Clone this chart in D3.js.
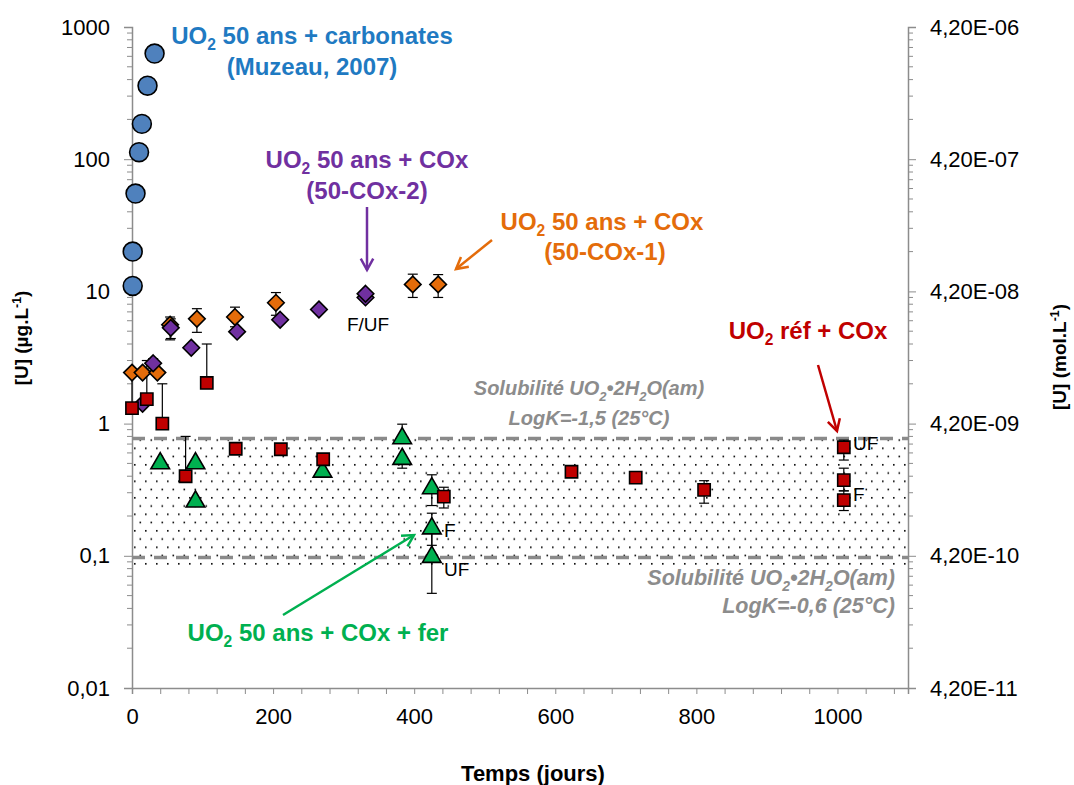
<!DOCTYPE html>
<html>
<head>
<meta charset="utf-8">
<script src="https://cdn.jsdelivr.net/npm/d3@7"></script>
<style>
  body { margin: 0; background: #fff; }
  svg { font-family: "Liberation Sans", Arial, sans-serif; }
  .axis path, .axis line { stroke: #8c8c8c; }
  .axis text { font-size: 22px; fill: #000; font-family: "Liberation Sans", Arial, sans-serif; }
</style>
</head>
<body>
<script>
// ---- data ----
var blueDays = [1, 1, 5, 10, 14, 22, 32];
var blueVals = [11, 20, 55, 113, 185, 360, 630];

var orangeDays = [0, 15, 36, 54, 92, 146, 204, 398, 434];
var orangeVals = [2.43, 2.43, 2.43, 5.6, 6.2, 6.4, 8.2, 11.3, 11.3];
var orangeLo = [null, null, null, 4.3, 4.9, 5.4, 6.6, 9.0, 9.0];
var orangeHi = [null, null, null, 6.4, 7.4, 7.6, 9.8, 13.5, 13.4];

var purpleDays = [15, 30, 55, 84, 149, 210, 265, 331, 331];
var purpleVals = [1.41, 2.86, 5.3, 3.75, 4.96, 6.1, 7.3, 9.0, 9.6];
var purpleLo = [null, 2.6, 4.4, null, null, null, null, null, null];
var purpleHi = [null, 3.1, 6.2, null, null, null, null, null, null];

var greenDays = [40, 90, 90, 270, 383, 383, 425, 425, 425];
var greenVals = [0.50, 0.50, 0.257, 0.432, 0.774, 0.54, 0.324, 0.161, 0.098];
var greenLo = [null, null, null, 0.43, 0.774, 0.46, 0.24, 0.12, 0.052];
var greenHi = [null, null, null, 0.58, 0.99, 0.54, 0.41, 0.21, 0.16];

var redDays = [0, 21, 43, 76, 106, 147, 211, 271, 442, 623, 714, 811, 1009, 1009, 1009];
var redVals = [1.31, 1.53, 1.0, 0.40, 2.03, 0.645, 0.64, 0.537, 0.28, 0.432, 0.39, 0.315, 0.662, 0.374, 0.264];
var redLo = [1.31, 1.53, 1.0, 0.40, 2.03, null, null, 0.49, 0.23, null, null, 0.25, 0.53, 0.31, 0.22];
var redHi = [2.4, 3.0, 2.0, 0.80, 4.0, null, null, 0.58, 0.33, null, null, 0.37, 0.75, 0.46, 0.31];

var solubHigh = 0.77;
var solubLow = 0.097;
var bandBottom = 0.08;

var yTickVals = [0.01, 0.1, 1, 10, 100, 1000];
var yTickLabels = ["0,01", "0,1", "1", "10", "100", "1000"];
var y2TickLabels = ["4,20E-11", "4,20E-10", "4,20E-09", "4,20E-08", "4,20E-07", "4,20E-06"];
var xLabelVals = [0, 200, 400, 600, 800, 1000];

// ---- layout ----
var W = 1074, H = 785;
var x = d3.scaleLinear().domain([0, 1100]).range([132, 908]);
var y = d3.scaleLog().domain([0.01, 1000]).range([688, 27]);

var svg = d3.select("body").append("svg")
    .attr("width", W)
    .attr("height", H);

var defs = svg.append("defs");
var pat = defs.append("pattern")
    .attr("id", "dots")
    .attr("patternUnits", "userSpaceOnUse")
    .attr("width", 11)
    .attr("height", 16.5);
pat.append("rect").attr("x", 2).attr("y", 2).attr("width", 1.6).attr("height", 1.6).attr("fill", "#000");
pat.append("rect").attr("x", 7.5).attr("y", 10.25).attr("width", 1.6).attr("height", 1.6).attr("fill", "#000");

// solubility band
svg.append("rect")
    .attr("x", x(0))
    .attr("y", y(solubHigh))
    .attr("width", x(1100) - x(0))
    .attr("height", y(bandBottom) - y(solubHigh))
    .attr("fill", "url(#dots)");

[solubHigh, solubLow].forEach(function (v) {
    svg.append("line")
        .attr("x1", x(0)).attr("x2", x(1100))
        .attr("y1", y(v)).attr("y2", y(v))
        .attr("stroke", "#8a8a8a")
        .attr("stroke-width", 3.5)
        .attr("stroke-dasharray", "13 9");
});

// minor log ticks
var minor = [];
for (var e = -2; e < 3; e++) {
    for (var m = 2; m <= 9; m++) minor.push(m * Math.pow(10, e));
}

// left axis
var yAxis = svg.append("g")
    .attr("class", "axis")
    .attr("transform", "translate(" + x(0) + ",0)")
    .call(d3.axisLeft(y).tickValues(yTickVals).tickSize(8).tickPadding(14)
        .tickFormat(function (d, i) { return yTickLabels[i]; }));
yAxis.selectAll(".minor").data(minor).enter().append("line")
    .attr("class", "minor")
    .attr("x1", -5).attr("x2", 0)
    .attr("y1", d => y(d)).attr("y2", d => y(d));

// right axis
var y2Axis = svg.append("g")
    .attr("class", "axis")
    .attr("transform", "translate(" + x(1100) + ",0)")
    .call(d3.axisRight(y).tickValues(yTickVals).tickSize(8).tickPadding(14)
        .tickFormat(function (d, i) { return y2TickLabels[i]; }));
y2Axis.selectAll(".minor").data(minor).enter().append("line")
    .attr("class", "minor")
    .attr("x1", 0).attr("x2", 5)
    .attr("y1", d => y(d)).attr("y2", d => y(d));

// bottom axis
svg.append("g")
    .attr("class", "axis")
    .attr("transform", "translate(0," + y(0.01) + ")")
    .call(d3.axisBottom(x).tickValues(d3.range(0, 1100, 40)).tickSize(6).tickPadding(14)
        .tickFormat(function (d) { return xLabelVals.indexOf(d) >= 0 ? d : ""; }));
svg.selectAll(".axis path.domain").attr("stroke-width", 1.5);

// axis titles
svg.append("text")
    .attr("transform", "translate(28,338) rotate(-90)")
    .attr("text-anchor", "middle")
    .attr("font-weight", "bold")
    .attr("font-size", 19)
    .call(rich, [["[U] (µg.L", ""], ["-1", "sup"], [")", ""]]);

svg.append("text")
    .attr("transform", "translate(1066,357) rotate(-90)")
    .attr("text-anchor", "middle")
    .attr("font-weight", "bold")
    .attr("font-size", 19)
    .call(rich, [["[U] (mol.L", ""], ["-1", "sup"], [")", ""]]);

svg.append("text")
    .attr("x", 533).attr("y", 781)
    .attr("text-anchor", "middle")
    .attr("font-weight", "bold")
    .attr("font-size", 22)
    .text("Temps (jours)");

// text with sub/superscripts
function rich(sel, parts) {
    var shift = 0;
    parts.forEach(function (p) {
        var t = sel.append("tspan").text(p[0]);
        var target = p[1] === "sub" ? 6 : p[1] === "sup" ? -7 : 0;
        if (target !== shift) t.attr("dy", target - shift);
        if (p[1]) t.attr("font-size", "65%");
        shift = target;
    });
}

// error bars
function errorBars(days, lo, hi) {
    var g = svg.append("g").attr("stroke", "#000").attr("stroke-width", 1.2);
    days.forEach(function (d, i) {
        if (lo[i] == null) return;
        var cx = x(d);
        g.append("line").attr("x1", cx).attr("x2", cx).attr("y1", y(lo[i])).attr("y2", y(hi[i]));
        g.append("line").attr("x1", cx - 5).attr("x2", cx + 5).attr("y1", y(lo[i])).attr("y2", y(lo[i]));
        g.append("line").attr("x1", cx - 5).attr("x2", cx + 5).attr("y1", y(hi[i])).attr("y2", y(hi[i]));
    });
}
errorBars(orangeDays, orangeLo, orangeHi);
errorBars(purpleDays, purpleLo, purpleHi);
errorBars(greenDays, greenLo, greenHi);
errorBars(redDays, redLo, redHi);

// markers
function markers(days, vals, type, size, fill) {
    svg.append("g").selectAll("path").data(days).enter().append("path")
        .attr("transform", (d, i) => "translate(" + x(d) + "," + y(vals[i]) + ")")
        .attr("d", d3.symbol().type(type).size(size))
        .attr("fill", fill)
        .attr("stroke", "#000")
        .attr("stroke-width", 1.6);
}
markers(blueDays, blueVals, d3.symbolCircle, 280, "#4f81bd");
markers(orangeDays, orangeVals, d3.symbolDiamond2, 175, "#e46c0a");
markers(purpleDays, purpleVals, d3.symbolDiamond2, 175, "#7030a0");
markers(greenDays, greenVals, d3.symbolTriangle, 150, "#00b050");
markers(redDays, redVals, d3.symbolSquare, 150, "#c00000");

// annotations
function label(xp, yp, color, parts, opts) {
    opts = opts || {};
    svg.append("text")
        .attr("x", xp).attr("y", yp)
        .attr("text-anchor", opts.anchor || "middle")
        .attr("font-weight", opts.weight || "bold")
        .attr("font-style", opts.italic ? "italic" : null)
        .attr("font-size", opts.size || 24)
        .attr("fill", color)
        .call(rich, parts);
}
function arrow(x1, y1, x2, y2, color) {
    var a = Math.atan2(y2 - y1, x2 - x1), L = 13, s = 0.5;
    svg.append("line").attr("x1", x1).attr("y1", y1).attr("x2", x2).attr("y2", y2)
        .attr("stroke", color).attr("stroke-width", 2.5);
    svg.append("polyline")
        .attr("points", [
            [x2 - L * Math.cos(a - s), y2 - L * Math.sin(a - s)],
            [x2, y2],
            [x2 - L * Math.cos(a + s), y2 - L * Math.sin(a + s)]
        ].map(p => p.join(",")).join(" "))
        .attr("fill", "none").attr("stroke", color).attr("stroke-width", 2.5);
}

var blue = "#1f7ac2", purple = "#7030a0", orange = "#e46c0a", red = "#c00000", green = "#00b050", grey = "#8c8c8c";

label(312, 44, blue, [["UO", ""], ["2", "sub"], [" 50 ans + carbonates", ""]]);
label(312, 75, blue, [["(Muzeau, 2007)", ""]]);

label(367, 168, purple, [["UO", ""], ["2", "sub"], [" 50 ans + COx", ""]]);
label(367, 199, purple, [["(50-COx-2)", ""]]);
arrow(367, 207, 367, 270, purple);

label(602, 230, orange, [["UO", ""], ["2", "sub"], [" 50 ans + COx", ""]]);
label(605, 260, orange, [["(50-COx-1)", ""]]);
arrow(492, 240, 456, 269, orange);

label(808, 339, red, [["UO", ""], ["2", "sub"], [" réf + COx", ""]]);
arrow(818, 365, 837, 431, red);

label(318, 641, green, [["UO", ""], ["2", "sub"], [" 50 ans + COx + fer", ""]]);
arrow(283, 615, 414, 535, green);

label(589, 395, grey, [["Solubilité UO", ""], ["2", "sub"], ["•2H", ""], ["2", "sub"], ["O(am)", ""]], { italic: true, size: 20 });
label(589, 425, grey, [["LogK=-1,5 (25°C)", ""]], { italic: true, size: 20 });
label(895, 585, grey, [["Solubilité UO", ""], ["2", "sub"], ["•2H", ""], ["2", "sub"], ["O(am)", ""]], { italic: true, size: 21.5, anchor: "end" });
label(895, 613, grey, [["LogK=-0,6 (25°C)", ""]], { italic: true, size: 21.5, anchor: "end" });

label(368, 331, "#000", [["F/UF", ""]], { weight: "normal", size: 19 });
label(853, 450, "#000", [["UF", ""]], { weight: "normal", size: 19, anchor: "start" });
label(853, 501, "#000", [["F", ""]], { weight: "normal", size: 19, anchor: "start" });
label(444, 537, "#000", [["F", ""]], { weight: "normal", size: 19, anchor: "start" });
label(444, 576, "#000", [["UF", ""]], { weight: "normal", size: 19, anchor: "start" });
</script>
</body>
</html>
